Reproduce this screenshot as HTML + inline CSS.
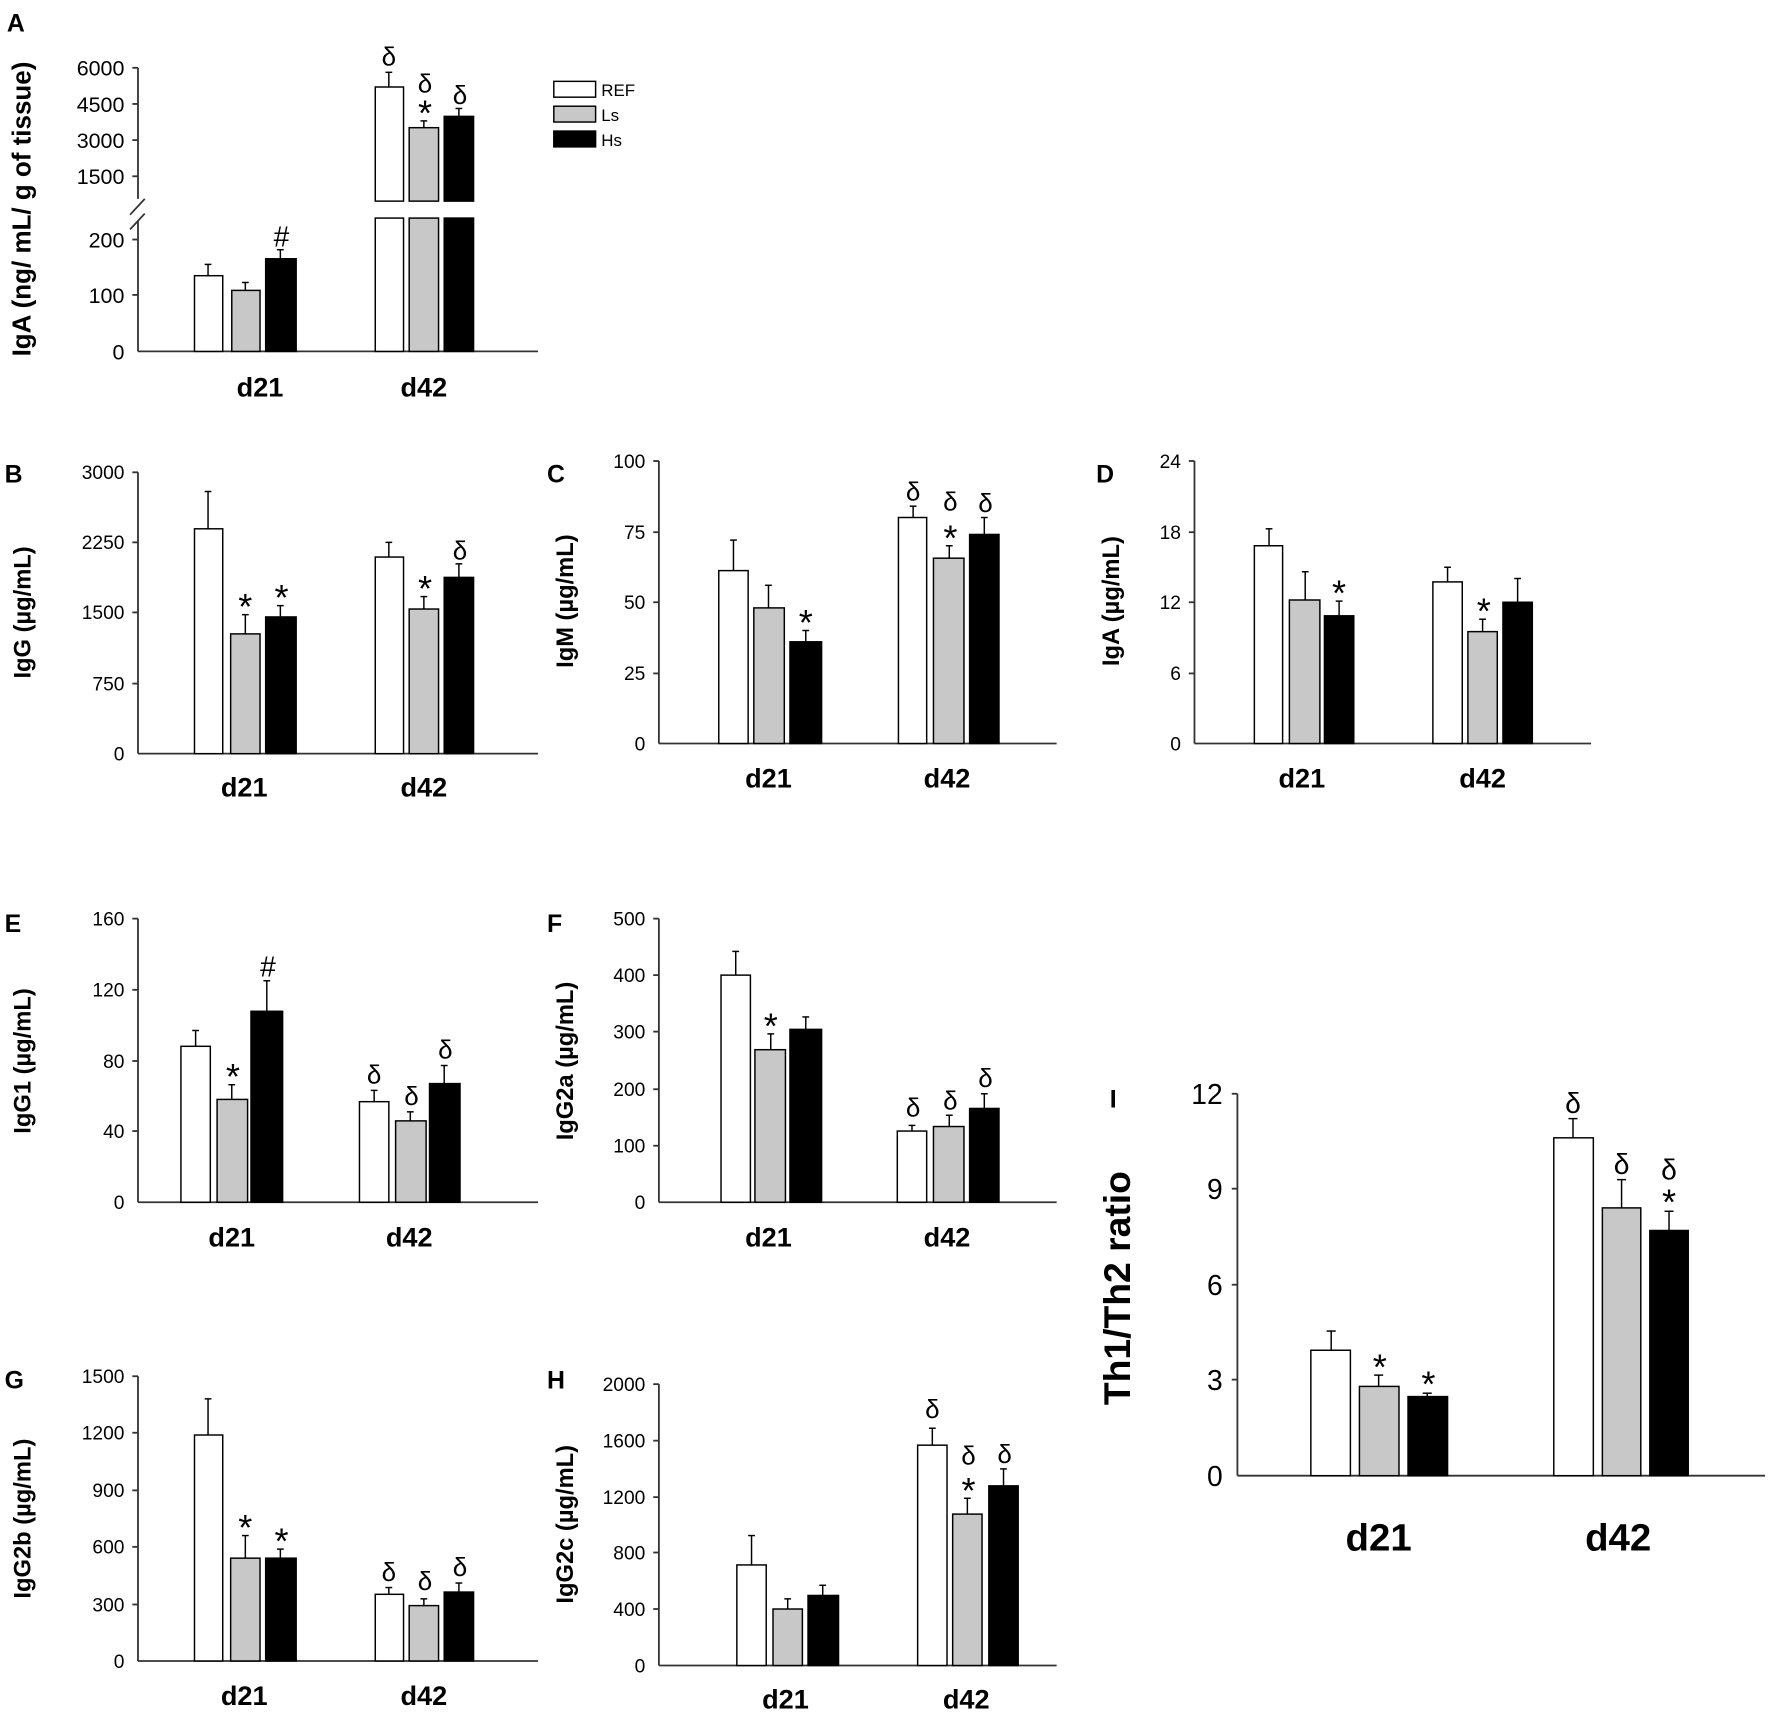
<!DOCTYPE html>
<html><head><meta charset="utf-8"><style>
html,body{margin:0;padding:0;background:#fff;}
svg{display:block;}
text{font-family:"Liberation Sans",Arial,sans-serif;fill:#000;}
.t{font-size:17px;text-anchor:end;}
.ta{font-size:19px;text-anchor:end;}
.xl{font-size:24px;font-weight:bold;text-anchor:middle;}
.yl{font-size:21px;font-weight:bold;text-anchor:middle;}
.pl{font-size:22px;font-weight:bold;}
.s{font-size:23px;text-anchor:middle;}
.a{font-size:32px;text-anchor:middle;}
.w{fill:#fff;stroke:#000;stroke-width:1.3;}
.g{fill:#c8c8c8;stroke:#000;stroke-width:1.3;}
.k{fill:#000;stroke:#000;stroke-width:1.3;}
line{stroke:#000;stroke-width:1.3;}
.ax{stroke:#333;stroke-width:1.6;}
</style></head><body>
<svg width="1772" height="1722" viewBox="0 0 1568 1524" xmlns="http://www.w3.org/2000/svg">

<!-- ===== Panel A ===== -->
<text class="pl" x="6" y="28">A</text>
<text class="yl" transform="translate(27,185) rotate(-90)" style="font-size:23px">IgA (ng/ mL/ g of tissue)</text>
<line class="ax" x1="122" y1="60" x2="122" y2="176"/>
<line class="ax" x1="122" y1="196" x2="122" y2="311"/>
<line class="ax" x1="115" y1="190" x2="128" y2="176"/>
<line class="ax" x1="115" y1="203" x2="128" y2="189"/>
<line class="ax" x1="122" y1="311" x2="476" y2="311"/>
<line class="ax" x1="117" y1="60" x2="122" y2="60"/><text class="ta" x="110" y="67">6000</text>
<line class="ax" x1="117" y1="92" x2="122" y2="92"/><text class="ta" x="110" y="99">4500</text>
<line class="ax" x1="117" y1="124" x2="122" y2="124"/><text class="ta" x="110" y="131">3000</text>
<line class="ax" x1="117" y1="156" x2="122" y2="156"/><text class="ta" x="110" y="163">1500</text>
<line class="ax" x1="117" y1="212" x2="122" y2="212"/><text class="ta" x="110" y="219">200</text>
<line class="ax" x1="117" y1="261" x2="122" y2="261"/><text class="ta" x="110" y="268">100</text>
<text class="ta" x="110" y="318">0</text>
<line x1="184" y1="244" x2="184" y2="234"/><line x1="181" y1="234" x2="187" y2="234"/>
<rect class="w" x="172" y="244" width="25" height="67"/>
<line x1="217" y1="257" x2="217" y2="250"/><line x1="214" y1="250" x2="220" y2="250"/>
<rect class="g" x="205" y="257" width="25" height="54"/>
<line x1="248" y1="229" x2="248" y2="221"/><line x1="245" y1="221" x2="251" y2="221"/>
<rect class="k" x="235" y="229" width="27" height="82"/>
<text class="s" x="249" y="218" style="font-size:25px">#</text>
<line x1="344" y1="77" x2="344" y2="64"/><line x1="341" y1="64" x2="347" y2="64"/>
<rect class="w" x="332" y="77" width="25" height="101"/>
<rect class="w" x="332" y="193" width="25" height="118"/>
<line x1="375" y1="113" x2="375" y2="107"/><line x1="372" y1="107" x2="378" y2="107"/>
<rect class="g" x="362" y="113" width="26" height="65"/>
<rect class="g" x="362" y="193" width="26" height="118"/>
<line x1="406" y1="103" x2="406" y2="96"/><line x1="403" y1="96" x2="409" y2="96"/>
<rect class="k" x="393" y="103" width="26" height="75"/>
<rect class="k" x="393" y="193" width="26" height="118"/>
<text class="s" x="344" y="58">δ</text>
<text class="s" x="376" y="82">δ</text>
<text class="a" x="376" y="111">*</text>
<text class="s" x="407" y="92">δ</text>
<text class="xl" x="230" y="351">d21</text>
<text class="xl" x="375" y="351">d42</text>
<rect class="w" x="490" y="72" width="37" height="14"/><text x="532" y="85" style="font-size:15px">REF</text>
<rect class="g" x="490" y="94" width="37" height="14"/><text x="532" y="107" style="font-size:15px">Ls</text>
<rect class="k" x="490" y="116" width="37" height="14"/><text x="532" y="129" style="font-size:15px">Hs</text>

<!-- ===== Panel B ===== -->
<text class="pl" x="4" y="427">B</text>
<text class="yl" transform="translate(27,542) rotate(-90)">IgG (µg/mL)</text>
<line class="ax" x1="122" y1="418" x2="122" y2="667"/>
<line class="ax" x1="122" y1="667" x2="476" y2="667"/>
<line class="ax" x1="117" y1="418" x2="122" y2="418"/><text class="t" x="110" y="424">3000</text>
<line class="ax" x1="117" y1="480" x2="122" y2="480"/><text class="t" x="110" y="486">2250</text>
<line class="ax" x1="117" y1="542" x2="122" y2="542"/><text class="t" x="110" y="548">1500</text>
<line class="ax" x1="117" y1="605" x2="122" y2="605"/><text class="t" x="110" y="611">750</text>
<text class="t" x="110" y="673">0</text>
<line x1="184" y1="468" x2="184" y2="435"/><line x1="181" y1="435" x2="187" y2="435"/>
<rect class="w" x="172" y="468" width="25" height="199"/>
<line x1="217" y1="561" x2="217" y2="544"/><line x1="214" y1="544" x2="220" y2="544"/>
<rect class="g" x="204" y="561" width="26" height="106"/>
<line x1="248" y1="546" x2="248" y2="536"/><line x1="245" y1="536" x2="251" y2="536"/>
<rect class="k" x="235" y="546" width="27" height="121"/>
<text class="a" x="217" y="548">*</text><text class="a" x="249" y="540">*</text>
<line x1="344" y1="493" x2="344" y2="480"/><line x1="341" y1="480" x2="347" y2="480"/>
<rect class="w" x="332" y="493" width="25" height="174"/>
<line x1="375" y1="539" x2="375" y2="528"/><line x1="372" y1="528" x2="378" y2="528"/>
<rect class="g" x="362" y="539" width="26" height="128"/>
<line x1="406" y1="511" x2="406" y2="499"/><line x1="403" y1="499" x2="409" y2="499"/>
<rect class="k" x="393" y="511" width="26" height="156"/>
<text class="a" x="376" y="532">*</text><text class="s" x="407" y="495">δ</text>
<text class="xl" x="216" y="705">d21</text>
<text class="xl" x="375" y="705">d42</text>

<!-- ===== Panel C ===== -->
<text class="pl" x="484" y="427">C</text>
<text class="yl" transform="translate(507,532) rotate(-90)">IgM (µg/mL)</text>
<line class="ax" x1="583" y1="408" x2="583" y2="658"/>
<line class="ax" x1="583" y1="658" x2="935" y2="658"/>
<line class="ax" x1="578" y1="408" x2="583" y2="408"/><text class="t" x="571" y="414">100</text>
<line class="ax" x1="578" y1="471" x2="583" y2="471"/><text class="t" x="571" y="477">75</text>
<line class="ax" x1="578" y1="533" x2="583" y2="533"/><text class="t" x="571" y="539">50</text>
<line class="ax" x1="578" y1="596" x2="583" y2="596"/><text class="t" x="571" y="602">25</text>
<text class="t" x="571" y="664">0</text>
<line x1="649" y1="505" x2="649" y2="478"/><line x1="646" y1="478" x2="652" y2="478"/>
<rect class="w" x="636" y="505" width="26" height="153"/>
<line x1="680" y1="538" x2="680" y2="518"/><line x1="677" y1="518" x2="683" y2="518"/>
<rect class="g" x="667" y="538" width="27" height="120"/>
<line x1="713" y1="568" x2="713" y2="558"/><line x1="710" y1="558" x2="716" y2="558"/>
<rect class="k" x="699" y="568" width="28" height="90"/>
<text class="a" x="713" y="562">*</text>
<line x1="808" y1="458" x2="808" y2="448"/><line x1="805" y1="448" x2="811" y2="448"/>
<rect class="w" x="795" y="458" width="25" height="200"/>
<line x1="840" y1="494" x2="840" y2="483"/><line x1="837" y1="483" x2="843" y2="483"/>
<rect class="g" x="826" y="494" width="27" height="164"/>
<line x1="871" y1="473" x2="871" y2="458"/><line x1="868" y1="458" x2="874" y2="458"/>
<rect class="k" x="858" y="473" width="26" height="185"/>
<text class="s" x="808" y="443">δ</text><text class="s" x="841" y="452">δ</text>
<text class="a" x="841" y="487">*</text><text class="s" x="872" y="453">δ</text>
<text class="xl" x="680" y="697">d21</text>
<text class="xl" x="838" y="697">d42</text>

<!-- ===== Panel D ===== -->
<text class="pl" x="970" y="427">D</text>
<text class="yl" transform="translate(990,532) rotate(-90)">IgA (µg/mL)</text>
<line class="ax" x1="1057" y1="408" x2="1057" y2="658"/>
<line class="ax" x1="1057" y1="658" x2="1408" y2="658"/>
<line class="ax" x1="1052" y1="408" x2="1057" y2="408"/><text class="t" x="1045" y="414">24</text>
<line class="ax" x1="1052" y1="471" x2="1057" y2="471"/><text class="t" x="1045" y="477">18</text>
<line class="ax" x1="1052" y1="533" x2="1057" y2="533"/><text class="t" x="1045" y="539">12</text>
<line class="ax" x1="1052" y1="596" x2="1057" y2="596"/><text class="t" x="1045" y="602">6</text>
<text class="t" x="1045" y="664">0</text>
<line x1="1123" y1="483" x2="1123" y2="468"/><line x1="1120" y1="468" x2="1126" y2="468"/>
<rect class="w" x="1110" y="483" width="25" height="175"/>
<line x1="1155" y1="531" x2="1155" y2="506"/><line x1="1152" y1="506" x2="1158" y2="506"/>
<rect class="g" x="1141" y="531" width="27" height="127"/>
<line x1="1185" y1="545" x2="1185" y2="532"/><line x1="1182" y1="532" x2="1188" y2="532"/>
<rect class="k" x="1172" y="545" width="26" height="113"/>
<text class="a" x="1185" y="536">*</text>
<line x1="1281" y1="515" x2="1281" y2="502"/><line x1="1278" y1="502" x2="1284" y2="502"/>
<rect class="w" x="1268" y="515" width="26" height="143"/>
<line x1="1312" y1="559" x2="1312" y2="548"/><line x1="1309" y1="548" x2="1315" y2="548"/>
<rect class="g" x="1299" y="559" width="26" height="99"/>
<line x1="1343" y1="533" x2="1343" y2="512"/><line x1="1340" y1="512" x2="1346" y2="512"/>
<rect class="k" x="1330" y="533" width="26" height="125"/>
<text class="a" x="1313" y="552">*</text>
<text class="xl" x="1152" y="697">d21</text>
<text class="xl" x="1312" y="697">d42</text>

<!-- ===== Panel E ===== -->
<text class="pl" x="4" y="825">E</text>
<text class="yl" transform="translate(27,939) rotate(-90)">IgG1 (µg/mL)</text>
<line class="ax" x1="122" y1="813" x2="122" y2="1064"/>
<line class="ax" x1="122" y1="1064" x2="476" y2="1064"/>
<line class="ax" x1="117" y1="813" x2="122" y2="813"/><text class="t" x="110" y="819">160</text>
<line class="ax" x1="117" y1="876" x2="122" y2="876"/><text class="t" x="110" y="882">120</text>
<line class="ax" x1="117" y1="939" x2="122" y2="939"/><text class="t" x="110" y="945">80</text>
<line class="ax" x1="117" y1="1001" x2="122" y2="1001"/><text class="t" x="110" y="1007">40</text>
<text class="t" x="110" y="1070">0</text>
<line x1="173" y1="926" x2="173" y2="912"/><line x1="170" y1="912" x2="176" y2="912"/>
<rect class="w" x="160" y="926" width="26" height="138"/>
<line x1="205" y1="973" x2="205" y2="960"/><line x1="202" y1="960" x2="208" y2="960"/>
<rect class="g" x="192" y="973" width="27" height="91"/>
<line x1="236" y1="895" x2="236" y2="868"/><line x1="233" y1="868" x2="239" y2="868"/>
<rect class="k" x="222" y="895" width="28" height="169"/>
<text class="a" x="206" y="964">*</text><text class="s" x="237" y="864" style="font-size:25px">#</text>
<line x1="331" y1="975" x2="331" y2="965"/><line x1="328" y1="965" x2="334" y2="965"/>
<rect class="w" x="318" y="975" width="26" height="89"/>
<line x1="363" y1="992" x2="363" y2="984"/><line x1="360" y1="984" x2="366" y2="984"/>
<rect class="g" x="350" y="992" width="27" height="72"/>
<line x1="393" y1="959" x2="393" y2="943"/><line x1="390" y1="943" x2="396" y2="943"/>
<rect class="k" x="380" y="959" width="27" height="105"/>
<text class="s" x="331" y="959">δ</text><text class="s" x="364" y="978">δ</text><text class="s" x="394" y="937">δ</text>
<text class="xl" x="205" y="1103">d21</text>
<text class="xl" x="362" y="1103">d42</text>

<!-- ===== Panel F ===== -->
<text class="pl" x="484" y="825">F</text>
<text class="yl" transform="translate(507,939) rotate(-90)">IgG2a (µg/mL)</text>
<line class="ax" x1="583" y1="813" x2="583" y2="1064"/>
<line class="ax" x1="583" y1="1064" x2="935" y2="1064"/>
<line class="ax" x1="578" y1="813" x2="583" y2="813"/><text class="t" x="571" y="819">500</text>
<line class="ax" x1="578" y1="863" x2="583" y2="863"/><text class="t" x="571" y="869">400</text>
<line class="ax" x1="578" y1="913" x2="583" y2="913"/><text class="t" x="571" y="919">300</text>
<line class="ax" x1="578" y1="964" x2="583" y2="964"/><text class="t" x="571" y="970">200</text>
<line class="ax" x1="578" y1="1014" x2="583" y2="1014"/><text class="t" x="571" y="1020">100</text>
<text class="t" x="571" y="1070">0</text>
<line x1="651" y1="863" x2="651" y2="842"/><line x1="648" y1="842" x2="654" y2="842"/>
<rect class="w" x="638" y="863" width="26" height="201"/>
<line x1="682" y1="929" x2="682" y2="915"/><line x1="679" y1="915" x2="685" y2="915"/>
<rect class="g" x="668" y="929" width="27" height="135"/>
<line x1="713" y1="911" x2="713" y2="900"/><line x1="710" y1="900" x2="716" y2="900"/>
<rect class="k" x="699" y="911" width="28" height="153"/>
<text class="a" x="682" y="919">*</text>
<line x1="807" y1="1001" x2="807" y2="996"/><line x1="804" y1="996" x2="810" y2="996"/>
<rect class="w" x="794" y="1001" width="26" height="63"/>
<line x1="840" y1="997" x2="840" y2="987"/><line x1="837" y1="987" x2="843" y2="987"/>
<rect class="g" x="826" y="997" width="27" height="67"/>
<line x1="871" y1="981" x2="871" y2="968"/><line x1="868" y1="968" x2="874" y2="968"/>
<rect class="k" x="858" y="981" width="26" height="83"/>
<text class="s" x="808" y="988">δ</text><text class="s" x="841" y="982">δ</text><text class="s" x="872" y="962">δ</text>
<text class="xl" x="680" y="1103">d21</text>
<text class="xl" x="838" y="1103">d42</text>

<!-- ===== Panel G ===== -->
<text class="pl" x="4" y="1229">G</text>
<text class="yl" transform="translate(27,1344) rotate(-90)">IgG2b (µg/mL)</text>
<line class="ax" x1="122" y1="1218" x2="122" y2="1470"/>
<line class="ax" x1="122" y1="1470" x2="476" y2="1470"/>
<line class="ax" x1="117" y1="1218" x2="122" y2="1218"/><text class="t" x="110" y="1224">1500</text>
<line class="ax" x1="117" y1="1268" x2="122" y2="1268"/><text class="t" x="110" y="1274">1200</text>
<line class="ax" x1="117" y1="1319" x2="122" y2="1319"/><text class="t" x="110" y="1325">900</text>
<line class="ax" x1="117" y1="1369" x2="122" y2="1369"/><text class="t" x="110" y="1375">600</text>
<line class="ax" x1="117" y1="1420" x2="122" y2="1420"/><text class="t" x="110" y="1426">300</text>
<text class="t" x="110" y="1476">0</text>
<line x1="184" y1="1270" x2="184" y2="1238"/><line x1="181" y1="1238" x2="187" y2="1238"/>
<rect class="w" x="172" y="1270" width="25" height="200"/>
<line x1="217" y1="1379" x2="217" y2="1359"/><line x1="214" y1="1359" x2="220" y2="1359"/>
<rect class="g" x="204" y="1379" width="26" height="91"/>
<line x1="248" y1="1379" x2="248" y2="1371"/><line x1="245" y1="1371" x2="251" y2="1371"/>
<rect class="k" x="235" y="1379" width="27" height="91"/>
<text class="a" x="217" y="1363">*</text><text class="a" x="249" y="1375">*</text>
<line x1="344" y1="1411" x2="344" y2="1405"/><line x1="341" y1="1405" x2="347" y2="1405"/>
<rect class="w" x="332" y="1411" width="25" height="59"/>
<line x1="375" y1="1421" x2="375" y2="1415"/><line x1="372" y1="1415" x2="378" y2="1415"/>
<rect class="g" x="362" y="1421" width="26" height="49"/>
<line x1="406" y1="1409" x2="406" y2="1401"/><line x1="403" y1="1401" x2="409" y2="1401"/>
<rect class="k" x="393" y="1409" width="26" height="61"/>
<text class="s" x="344" y="1399">δ</text><text class="s" x="376" y="1407">δ</text><text class="s" x="407" y="1395">δ</text>
<text class="xl" x="216" y="1509">d21</text>
<text class="xl" x="375" y="1509">d42</text>

<!-- ===== Panel H ===== -->
<text class="pl" x="484" y="1229">H</text>
<text class="yl" transform="translate(507,1349) rotate(-90)">IgG2c (µg/mL)</text>
<line class="ax" x1="583" y1="1225" x2="583" y2="1474"/>
<line class="ax" x1="583" y1="1474" x2="935" y2="1474"/>
<line class="ax" x1="578" y1="1225" x2="583" y2="1225"/><text class="t" x="571" y="1231">2000</text>
<line class="ax" x1="578" y1="1275" x2="583" y2="1275"/><text class="t" x="571" y="1281">1600</text>
<line class="ax" x1="578" y1="1325" x2="583" y2="1325"/><text class="t" x="571" y="1331">1200</text>
<line class="ax" x1="578" y1="1374" x2="583" y2="1374"/><text class="t" x="571" y="1380">800</text>
<line class="ax" x1="578" y1="1424" x2="583" y2="1424"/><text class="t" x="571" y="1430">400</text>
<text class="t" x="571" y="1480">0</text>
<line x1="665" y1="1385" x2="665" y2="1359"/><line x1="662" y1="1359" x2="668" y2="1359"/>
<rect class="w" x="652" y="1385" width="26" height="89"/>
<line x1="697" y1="1424" x2="697" y2="1415"/><line x1="694" y1="1415" x2="700" y2="1415"/>
<rect class="g" x="684" y="1424" width="26" height="50"/>
<line x1="728" y1="1412" x2="728" y2="1403"/><line x1="725" y1="1403" x2="731" y2="1403"/>
<rect class="k" x="715" y="1412" width="27" height="62"/>
<line x1="825" y1="1279" x2="825" y2="1264"/><line x1="822" y1="1264" x2="828" y2="1264"/>
<rect class="w" x="812" y="1279" width="26" height="195"/>
<line x1="856" y1="1340" x2="856" y2="1326"/><line x1="853" y1="1326" x2="859" y2="1326"/>
<rect class="g" x="843" y="1340" width="26" height="134"/>
<line x1="888" y1="1315" x2="888" y2="1300"/><line x1="885" y1="1300" x2="891" y2="1300"/>
<rect class="k" x="875" y="1315" width="26" height="159"/>
<text class="s" x="825" y="1255">δ</text><text class="s" x="857" y="1296">δ</text>
<text class="a" x="857" y="1330">*</text><text class="s" x="889" y="1295">δ</text>
<text class="xl" x="695" y="1512">d21</text>
<text class="xl" x="855" y="1512">d42</text>

<!-- ===== Panel I ===== -->
<text class="pl" x="982" y="980">I</text>
<text transform="translate(1000,1140) rotate(-90)" style="font-size:33px;font-weight:bold;text-anchor:middle">Th1/Th2 ratio</text>
<line class="ax" x1="1095" y1="968" x2="1095" y2="1306"/>
<line class="ax" x1="1095" y1="1306" x2="1562" y2="1306"/>
<line class="ax" x1="1090" y1="968" x2="1095" y2="968"/><text class="t" x="1082" y="977" style="font-size:25px">12</text>
<line class="ax" x1="1090" y1="1052" x2="1095" y2="1052"/><text class="t" x="1082" y="1061" style="font-size:25px">9</text>
<line class="ax" x1="1090" y1="1137" x2="1095" y2="1137"/><text class="t" x="1082" y="1146" style="font-size:25px">6</text>
<line class="ax" x1="1090" y1="1221" x2="1095" y2="1221"/><text class="t" x="1082" y="1230" style="font-size:25px">3</text>
<text class="t" x="1082" y="1315" style="font-size:25px">0</text>
<line x1="1178" y1="1195" x2="1178" y2="1178"/><line x1="1174" y1="1178" x2="1182" y2="1178"/>
<rect class="w" x="1160" y="1195" width="35" height="111"/>
<line x1="1220" y1="1227" x2="1220" y2="1217"/><line x1="1216" y1="1217" x2="1224" y2="1217"/>
<rect class="g" x="1203" y="1227" width="35" height="79"/>
<line x1="1263" y1="1236" x2="1263" y2="1233"/><line x1="1259" y1="1233" x2="1267" y2="1233"/>
<rect class="k" x="1246" y="1236" width="35" height="70"/>
<text class="a" x="1221" y="1221">*</text>
<text class="a" x="1264" y="1236">*</text>
<line x1="1392" y1="1007" x2="1392" y2="990"/><line x1="1388" y1="990" x2="1396" y2="990"/>
<rect class="w" x="1375" y="1007" width="35" height="299"/>
<line x1="1435" y1="1069" x2="1435" y2="1044"/><line x1="1431" y1="1044" x2="1439" y2="1044"/>
<rect class="g" x="1418" y="1069" width="34" height="237"/>
<line x1="1477" y1="1089" x2="1477" y2="1072"/><line x1="1473" y1="1072" x2="1481" y2="1072"/>
<rect class="k" x="1460" y="1089" width="34" height="217"/>
<text class="s" x="1392" y="985" style="font-size:25px">δ</text>
<text class="s" x="1435" y="1039" style="font-size:25px">δ</text>
<text class="s" x="1477" y="1044" style="font-size:25px">δ</text>
<text class="a" x="1477" y="1075">*</text>
<text class="xl" x="1220" y="1372" style="font-size:34px">d21</text>
<text class="xl" x="1432" y="1372" style="font-size:34px">d42</text>
</svg>
</body></html>
